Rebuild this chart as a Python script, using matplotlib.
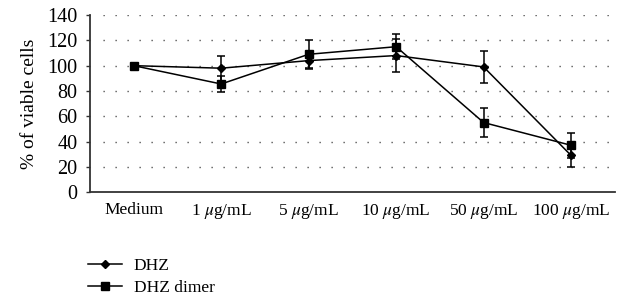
import matplotlib
matplotlib.use("Agg")
import matplotlib.pyplot as plt
from matplotlib.lines import Line2D

categories = ["Medium", "1 $\\mu$g/mL", "5 $\\mu$g/mL", "10 $\\mu$g/mL", "50 $\\mu$g/mL", "100 $\\mu$g/mL"]
dhz = [100, 98, 104, 108, 99, 29]
dhz_err = [0, 10, 6, 13, 12.5, 9]
dimer = [100, 85.5, 109, 115, 55, 37]
dimer_err = [0, 6, 11.5, 10, 11.5, 10]
yticks = [0, 20, 40, 60, 80, 100, 120, 140]

plt.rcParams['font.family'] = ['Liberation Serif', 'DejaVu Serif']
plt.rcParams['mathtext.fontset'] = 'stix'

fig = plt.figure(figsize=(6.21, 3.02), dpi=100)
ax = fig.add_axes([0.145, 0.364, 0.845, 0.586])
x = list(range(len(categories)))

ax.errorbar(x, dhz, yerr=dhz_err, color='black', lw=1.1, marker='D', ms=4.5,
            capsize=3, elinewidth=1.1, capthick=1.1, label='DHZ', zorder=3)
ax.errorbar(x, dimer, yerr=dimer_err, color='black', lw=1.1, marker='s', ms=6,
            capsize=3, elinewidth=1.1, capthick=1.1, label='DHZ dimer', zorder=3)

ax.set_xlim(-0.5, 5.5)
ax.set_ylim(0, 140)
ax.set_yticks(yticks)
ax.set_xticks(x)
ax.set_xticklabels(categories, fontsize=12.5)
ax.tick_params(axis='y', labelsize=14.5, length=3, width=1, pad=6, color='#333333')
ax.tick_params(axis='x', length=0, pad=7)
for t in yticks[1:]:
    ax.plot([-0.35, 5.5], [t, t], color='#444444', lw=1.0, ls=(0, (0.9, 7.74)),
            zorder=1, solid_capstyle='butt')
for s in ['top', 'right']:
    ax.spines[s].set_visible(False)
for s in ['left', 'bottom']:
    ax.spines[s].set_linewidth(1.3)
    ax.spines[s].set_color('#333333')
ax.set_ylabel('% of viable cells', fontsize=14, labelpad=7)

handles = [Line2D([], [], color='black', lw=1.1, marker='D', ms=4),
           Line2D([], [], color='black', lw=1.1, marker='s', ms=5.5)]
fig.legend(handles, ['DHZ', 'DHZ dimer'], loc='upper left', bbox_to_anchor=(0.141, 0.145),
           frameon=False, fontsize=12.5, handlelength=2.0, handletextpad=0.65,
           labelspacing=0.3, borderaxespad=0, borderpad=0)

fig.savefig('out.png', dpi=100)
